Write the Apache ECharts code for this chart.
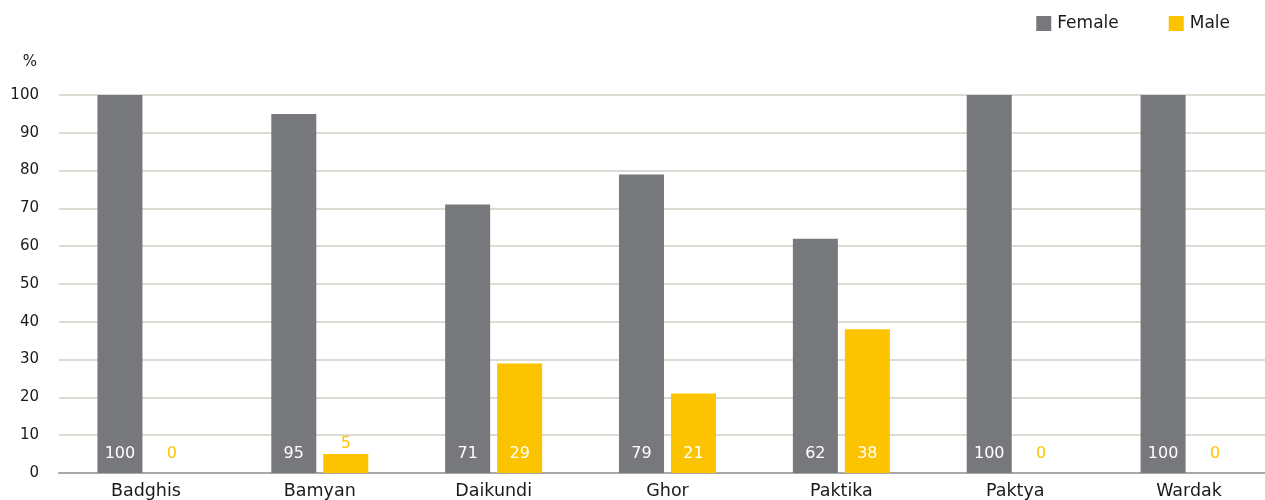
<!DOCTYPE html>
<html>
<head>
<meta charset="utf-8">
<script src="https://cdn.jsdelivr.net/npm/echarts@6/dist/echarts.min.js"></script>
<style>
  html, body { margin: 0; padding: 0; background: #fff; }
  #chart { width: 1265px; height: 500px; }
</style>
</head>
<body>
<div id="chart"></div>
<script>
// Provinces and the share (%) of female / male respondents in each
const provinces = ['Badghis', 'Bamyan', 'Daikundi', 'Ghor', 'Paktika', 'Paktya', 'Wardak'];
const female = [100, 95, 71, 79, 62, 100, 100];
const male = [0, 5, 29, 21, 38, 0, 0];
const yTicks = [0, 10, 20, 30, 40, 50, 60, 70, 80, 90, 100];

const GREY = '#77787b';
const YELLOW = '#fcc400';
const FONT = '"DejaVu Sans", "Liberation Sans", Arial, sans-serif';
const INK = '#1a1a1a';

// Large bars carry their value inside, white; tiny or empty ones show it in yellow
const maleData = male.map(v => {
  if (v === 0) {
    return { value: v, label: { position: 'insideBottom', distance: 11, color: YELLOW } };
  }
  if (v < 10) {
    return { value: v, label: { position: 'top', distance: 2, color: YELLOW } };
  }
  return { value: v };
});

const chart = echarts.init(document.getElementById('chart'), null, { renderer: 'canvas' });
chart.setOption({
  animation: false,
  textStyle: { fontFamily: FONT },
  legend: {
    top: 10,
    right: 30,
    itemWidth: 15,
    itemHeight: 15,
    itemGap: 50,
    icon: 'rect',
    textStyle: { fontFamily: FONT, fontSize: 17, color: INK, padding: [0, 0, 0, 1] },
    data: ['Female', 'Male']
  },
  // the plot runs slightly past the right edge of the page
  grid: { left: 59, top: 95, width: 1217, bottom: 27, containLabel: false, outerBoundsMode: 'none' },
  xAxis: {
    type: 'category',
    data: provinces,
    axisLine: { lineStyle: { color: '#a8a8a8', width: 2 } },
    axisTick: { show: false },
    axisLabel: { fontFamily: FONT, fontSize: 17.5, color: INK, margin: 9 }
  },
  yAxis: {
    type: 'value',
    min: yTicks[0],
    max: yTicks[yTicks.length - 1],
    interval: 10,
    name: '%',
    nameLocation: 'end',
    nameGap: 25,
    nameTextStyle: { fontFamily: FONT, fontSize: 15, color: INK, align: 'right', padding: [0, 22, 0, 0] },
    axisLine: { show: false },
    axisTick: { show: false },
    axisLabel: { fontFamily: FONT, fontSize: 15, color: INK, margin: 20 },
    splitLine: { lineStyle: { color: '#ddd9d3', width: 2 } }
  },
  series: [
    {
      name: 'Female',
      type: 'bar',
      data: female,
      barWidth: 45,
      barGap: '15.5%',
      itemStyle: { color: GREY },
      label: {
        show: true,
        position: 'insideBottom',
        distance: 11,
        color: '#fff',
        fontFamily: FONT,
        fontSize: 16
      }
    },
    {
      name: 'Male',
      type: 'bar',
      data: maleData,
      barWidth: 45,
      itemStyle: { color: YELLOW },
      label: {
        show: true,
        position: 'insideBottom',
        distance: 11,
        color: '#fff',
        fontFamily: FONT,
        fontSize: 16
      }
    }
  ]
});
</script>
</body>
</html>
